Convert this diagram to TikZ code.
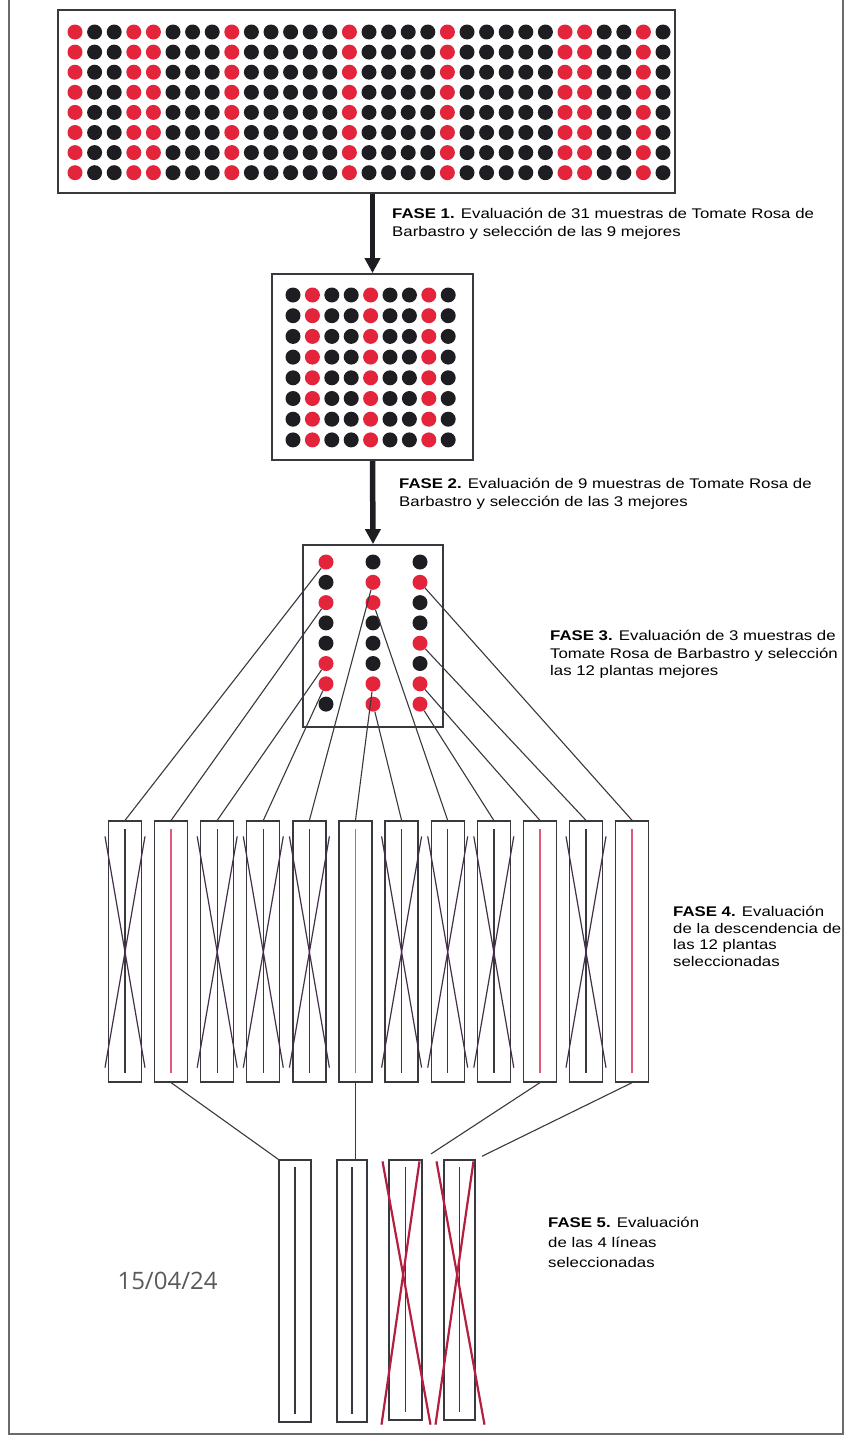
\documentclass[tikz,border=0pt]{standalone}
\usepackage{fontspec}
\setmainfont{Liberation Sans}[FakeStretch=1.2]
\newfontfamily\datefont{Open Sans}
\usepackage{tikz}
\usetikzlibrary{
  arrows.meta,
  positioning,
  calc
}
\definecolor{TomRed}{HTML}{E3243A}
\definecolor{TomBlack}{HTML}{1E1E22}
\definecolor{LineGray}{HTML}{38383E}
\definecolor{LinePink}{HTML}{E0587E}
\definecolor{CrossRed}{HTML}{B41E3F}
\definecolor{FrameGray}{HTML}{6A6A6A}
\definecolor{DateGray}{HTML}{5A5A5A}
\colorlet{dR}{TomRed}
\colorlet{dK}{TomBlack}

\begin{document}
\begin{tikzpicture}[
      x=1pt, y=-1pt,
      font=\fontsize{14}{17.5}\selectfont,
      gridbox/.style={
        rectangle, draw=LineGray, line width=1.8pt,
        inner sep=0pt
      },
      seed/.style={circle, fill=#1, inner sep=0pt, minimum size=15pt},
      plotbox/.style={
        rectangle, draw=LineGray, line width=1.3pt,
        minimum width=33pt, minimum height=261pt, inner sep=0pt
      },
      stem/.style={line width=1.4pt, #1},
      stem/.default=LineGray,
      crossline/.style={line width=1.2pt, LineGray!85!violet},
      redcross/.style={line width=2.2pt, CrossRed},
      fatarr/.style={-{Triangle[length=15pt,width=15pt]}, line width=5.5pt, TomBlack},
      link/.style={LineGray, line width=1.1pt},
      fase/.style={align=left, anchor=north west, inner sep=0pt}
    ]
    \useasboundingbox (0,0) rectangle (850,1440);

    % Frame (open at the top)
    \draw[FrameGray, line width=1.5pt] (9,0) -- (9,1434) -- (843,1434) -- (843,0);

    % Level 1: 31 samples
    \node[gridbox, minimum width=617pt, minimum height=183pt] (muestras) at (366.5,101.5) {};
    \foreach \c [count=\i] in {dR,dK,dK,dR,dR,dK,dK,dK,dR,dK,dK,dK,dK,dK,dR,dK,
                               dK,dK,dK,dR,dK,dK,dK,dK,dK,dR,dR,dK,dK,dR,dK}
      \foreach \j in {1,...,8}
        \fill[\c] ({75+(\i-1)*19.6},{32+(\j-1)*20.1}) circle[radius=7.5];

    % Level 2: 9 samples
    \node[gridbox, minimum width=201pt, minimum height=186pt] (sel9) at (372.5,367) {};
    \foreach \c [count=\i] in {dK,dR,dK,dK,dR,dK,dK,dR,dK}
      \foreach \j in {1,...,8}
        \fill[\c] ({293+(\i-1)*19.4},{295+(\j-1)*20.7}) circle[radius=7.5];

    % Level 3: 3 samples, named seeds
    \node[gridbox, minimum width=140pt, minimum height=182pt] (sel3) at (373,636) {};
    \foreach \col [count=\c] in {{dR,dK,dR,dK,dK,dR,dR,dK},
                                 {dK,dR,dR,dK,dK,dK,dR,dR},
                                 {dK,dR,dK,dK,dR,dK,dR,dR}}
      \foreach \s [count=\r] in \col
        \node[seed=\s] (s\c-\r) at ({326+(\c-1)*47},{562+(\r-1)*20.3}) {};

    % Arrows between phases
    \draw[fatarr] (muestras.south -| sel9.north) -- (sel9.north);
    \draw[fatarr] (sel9.south) -- (sel3.north);

    % Level 4: 12 plants
    \foreach \k in {1,...,12}
      \node[plotbox] (p\k) at ({125+(\k-1)*46.1},951.5) {};
    \foreach \k in {1,3,4,5,7,8,9,11} {
      \draw[stem] ($(p\k.north)+(0,9)$) -- ($(p\k.south)+(0,-10)$);
      \draw[crossline] ($(p\k.north)+(-20,16)$) -- ($(p\k.south)+(20,-15)$);
      \draw[crossline] ($(p\k.north)+(20,16)$) -- ($(p\k.south)+(-20,-15)$);
    }
    \foreach \k in {2,6,10,12}
      \draw[stem=LinePink] ($(p\k.north)+(0,9)$) -- ($(p\k.south)+(0,-10)$);

    % Red seeds to plants
    \foreach \k/\s in {1/1-1, 2/1-3, 3/1-6, 4/1-7, 5/2-2, 6/2-7,
                       7/2-8, 8/2-3, 9/3-8, 10/3-7, 11/3-5, 12/3-2}
      \draw[link] (s\s) -- (p\k.north);

    % Level 5: 4 lines
    \node[plotbox, minimum width=32pt, minimum height=262pt] (fA) at (295,1291) {};
    \node[plotbox, minimum width=30pt, minimum height=262pt] (fB) at (352,1291) {};
    \node[plotbox, minimum width=33pt, minimum height=260pt] (fC) at (405.5,1290) {};
    \node[plotbox, minimum width=31pt, minimum height=260pt] (fD) at (459.5,1290) {};
    \foreach \f in {fA,fB,fC,fD}
      \draw[stem] ($(\f.north)+(0,8)$) -- ($(\f.south)+(0,-9)$);
    \foreach \f in {fC,fD} {
      \draw[redcross] ($(\f.north)+(-23,2)$) -- ($(\f.south)+(25,4)$);
      \draw[redcross] ($(\f.north)+(14,2)$) -- ($(\f.south)+(-24,4)$);
    }

    \draw[link] (p2.south) -- (fA.north west);
    \draw[link] (p6.south) -- (p6.south |- fB.north);
    \draw[link, shorten >=10pt] (p10.south) -- (fC.north east);
    \draw[link, shorten >=7pt] (p12.south) -- (fD.north east);

    % Phase texts
    \node[fase] (t1) at (392,208)
      {\textbf{FASE 1.} Evaluación de 31 muestras de Tomate Rosa de\\Barbastro y selección de las 9 mejores};
    \node[fase] (t2) at (399,478)
      {\textbf{FASE 2.} Evaluación de 9 muestras de Tomate Rosa de\\Barbastro y selección de las 3 mejores};
    \node[fase] (t3) at (550,630)
      {\textbf{FASE 3.} Evaluación de 3 muestras de\\Tomate Rosa de Barbastro y selección\\las 12 plantas mejores};
    \node[fase, font=\fontsize{14}{16.5}\selectfont] (t4) at (673,906)
      {\textbf{FASE 4.} Evaluación\\de la descendencia de\\las 12 plantas\\seleccionadas};
    \node[fase, font=\fontsize{14}{20}\selectfont] (t5) at (548,1217)
      {\textbf{FASE 5.} Evaluación\\de las 4 líneas\\seleccionadas};

    \node[anchor=west, text=DateGray, font=\datefont\fontsize{24}{28}\selectfont] (fecha) at (114,1281) {15/04/24};
  \end{tikzpicture}
\end{document}
